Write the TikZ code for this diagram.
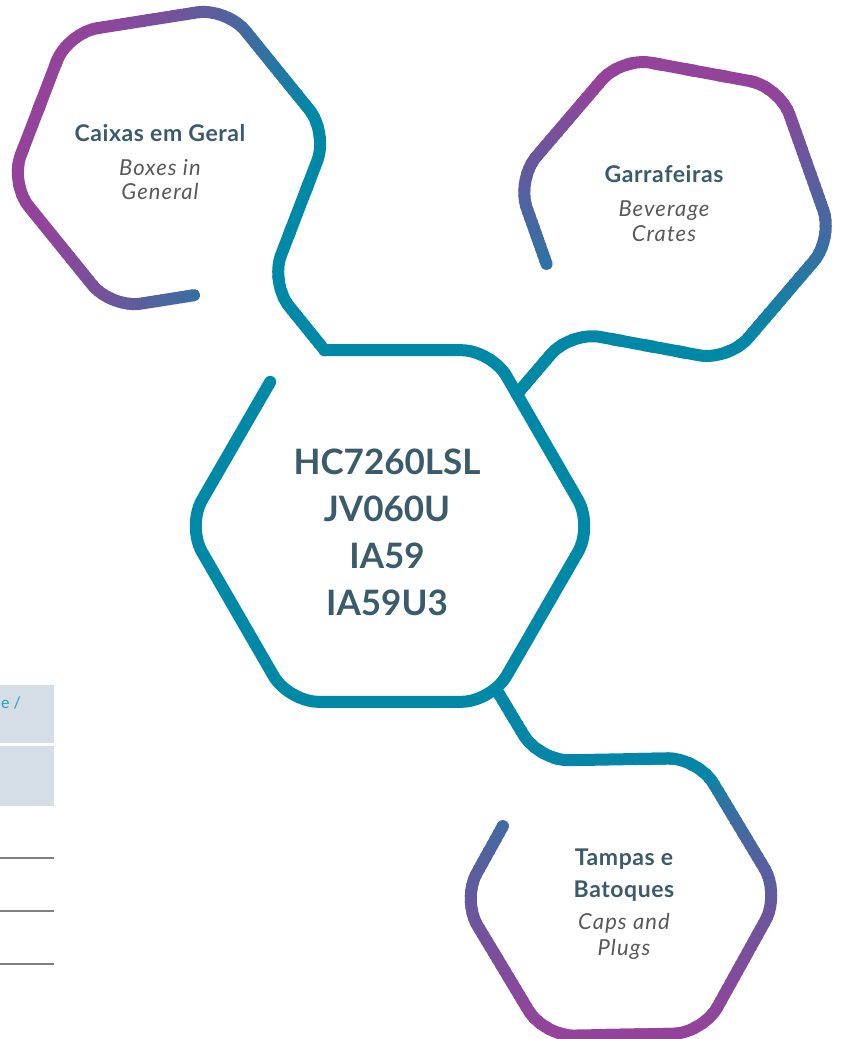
\documentclass[tikz,border=0pt]{standalone}
\usepackage{fontspec}
\setmainfont{Lato}
\usetikzlibrary{calc}
\definecolor{hexteal}{RGB}{0,137,166}
\definecolor{hexpurple}{RGB}{147,67,154}
\definecolor{headcol}{RGB}{58,91,107}
\definecolor{subcol}{RGB}{88,88,88}
\definecolor{tablefill}{RGB}{213,222,230}
\definecolor{tablerule}{RGB}{128,128,128}
\definecolor{tabletext}{RGB}{35,155,195}

\begin{document}
\begin{tikzpicture}[x=1pt, y=-1pt,
    hexline/.style={line width=12pt, line cap=round, line join=round, rounded corners=30pt},
    headtxt/.style={font=\bfseries\fontsize{23}{27}\selectfont\addfontfeatures{LetterSpace=2.5}, text=headcol},
    subtxt/.style={font=\itshape\fontsize{22}{26}\selectfont\addfontfeatures{LetterSpace=5}, text=subcol},
    codetxt/.style={font=\bfseries\fontsize{35}{40}\selectfont, text=headcol}]
      \useasboundingbox (0,0) rectangle (843,1039);

      \fill[tablefill] (0,685) rectangle (54,743);
      \fill[tablefill] (0,746) rectangle (54,806);
      \node[anchor=base west, inner sep=0pt, text=tabletext, font=\fontsize{16}{18}\selectfont] (tablehead) at (1,708) {e /};
      \foreach \y in {858,911,964}
        \draw[tablerule, line width=1.2pt] (0,\y) -- (54,\y);

      \coordinate (lc) at (169,158);
      \coordinate (cc) at (390,526);
      \coordinate (tc) at (675,209);
      \coordinate (bc) at (621,897);

      \foreach \a [count=\i] in {111,171,231,291,351,51}
        \coordinate (l\i) at ($(lc)+(\a:161)$);
      \foreach \a [count=\i] in {0,60,120,180,240,300}
        \coordinate (c\i) at ($(cc)+(\a:203)$);
      \foreach \a [count=\i] in {10.5,70.5,130.5,190.5,250.5,310.5}
        \coordinate (t\i) at ($(tc)+(\a:161)$);
      \foreach \a [count=\i] in {-1,59,119,179,239,299}
        \coordinate (b\i) at ($(bc)+(\a:159)$);

      \coordinate (j1) at (intersection of lc--l6 and c5--c6);
      \coordinate (j2) at (intersection of tc--t3 and c6--c1);
      \coordinate (j3) at (intersection of bc--b5 and c1--c2);
      \coordinate (lend) at ($(l1)!0.52!(l6)$);
      \coordinate (cend) at ($(c4)!0.82!(c5)$);
      \coordinate (tend) at ($(t4)!0.555!(t3)$);
      \coordinate (bend) at ($(b4)!0.53!(b5)$);

      \foreach \s in {0,6,...,444} {
        \pgfmathtruncatemacro{\tmix}{100*pow(min(1,max(0.001,(\s+3-80)/260)),1.5)}
        \begin{scope}
          \clip (\s+4.5,-20) -- (\s+11.5,-20) -- (\s-93.5,400) -- (\s-100.5,400) -- cycle;
          \draw[hexline, draw=hexteal!\tmix!hexpurple] (lend) -- (l1) -- (l2) -- (l3) -- (l4) -- (l5) -- (l6) -- (j1);
        \end{scope}
      }
      \foreach \y in {40,46,...,400} {
        \pgfmathtruncatemacro{\tmix}{100*min(1,max(0,(\y+3-85)/260))}
        \begin{scope}
          \clip (470,\y-0.5) rectangle (850,\y+6.5);
          \draw[hexline, draw=hexteal!\tmix!hexpurple] (j2) -- (t3) -- (t2) -- (t1) -- (t6) -- (t5) -- (t4) -- (tend);
        \end{scope}
      }
      \foreach \y in {680,686,...,1050} {
        \pgfmathtruncatemacro{\tmix}{100-100*sqrt(min(1,max(0.001,(\y+3-780)/255)))}
        \begin{scope}
          \clip (430,\y-0.5) rectangle (810,\y+6.5);
          \draw[hexline, draw=hexteal!\tmix!hexpurple] (j3) -- (b5) -- (b6) -- (b1) -- (b2) -- (b3) -- (b4) -- (bend);
        \end{scope}
      }
      \draw[hexline, hexteal] (j1) -- (c6) -- (c1) -- (c2) -- (c3) -- (c4) -- (cend);

      \node[headtxt, anchor=base] (lhead) at (160,141) {Caixas em Geral};
      \node[subtxt, anchor=base] (lsub1) at (160,175) {Boxes in};
      \node[subtxt, anchor=base] (lsub2) at (160,199) {General};

      \node[headtxt, anchor=base] (thead) at (664,182) {Garrafeiras};
      \node[subtxt, anchor=base] (tsub1) at (664,216) {Beverage};
      \node[subtxt, anchor=base] (tsub2) at (664,241) {Crates};

      \foreach \code [count=\i] in {HC7260LSL,JV060U,IA59,IA59U3}
        \node[codetxt, anchor=base] (code\i) at (387,{474.5+47*(\i-1)}) {\code};

      \node[headtxt, anchor=base] (bhead1) at (624,865) {Tampas e};
      \node[headtxt, anchor=base] (bhead2) at (624,897) {Batoques};
      \node[subtxt, anchor=base] (bsub1) at (624,929) {Caps and};
      \node[subtxt, anchor=base] (bsub2) at (624,955) {Plugs};
\end{tikzpicture}
\end{document}
